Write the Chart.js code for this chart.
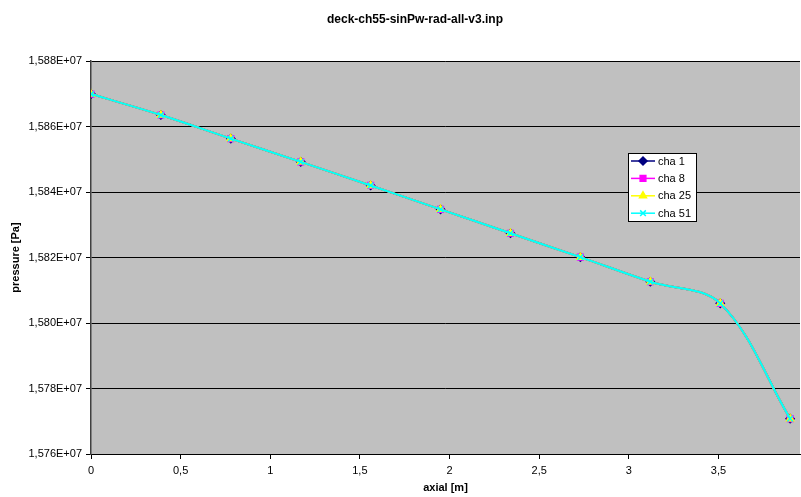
<!DOCTYPE html>
<html>
<head>
<meta charset="utf-8">
<script src="https://cdn.jsdelivr.net/npm/chart.js@4/dist/chart.umd.min.js"></script>
<style>
  html, body { margin: 0; padding: 0; background: #fff; }
  #wrap { width: 801px; height: 497px; }
</style>
</head>
<body>
<div id="wrap"><canvas id="pressureChart" width="801" height="497"></canvas></div>
<script>
// axial positions [m]
const axial = [0, 0.39, 0.78, 1.17, 1.56, 1.95, 2.34, 2.73, 3.12, 3.51, 3.9];

// pressure per channel [Pa]
const cha1  = [15869900, 15863500, 15856300, 15849200, 15842000, 15834700, 15827400, 15820100, 15812600, 15806000, 15770800];
const cha8  = [15869900, 15863500, 15856300, 15849200, 15842000, 15834700, 15827400, 15820100, 15812600, 15806000, 15770800];
const cha25 = [15869900, 15863500, 15856300, 15849200, 15842000, 15834700, 15827400, 15820100, 15812600, 15806000, 15770800];
const cha51 = [15869900, 15863500, 15856300, 15849200, 15842000, 15834700, 15827400, 15820100, 15812600, 15806000, 15770800];

const seriesNames = ['cha 1', 'cha 8', 'cha 25', 'cha 51'];
const seriesColors = ['#000080', '#ff00ff', '#ffff00', '#00ffff'];
const seriesMarkers = ['rectRot', 'rect', 'triangle', 'crossRot'];

const chartTitle = 'deck-ch55-sinPw-rad-all-v3.inp';
const yMin = 15760000, yMax = 15880000, yStep = 20000;

function toPoints(values) {
    return values.map((v, i) => ({ x: axial[i], y: v }));
}

// 1,588E+07 style labels
function sciLabel(v) {
    return (v / 1e7).toFixed(3).replace('.', ',') + 'E+07';
}

const plotBackground = {
    id: 'plotBackground',
    beforeDraw(chart) {
        const { ctx, chartArea: a } = chart;
        ctx.save();
        ctx.fillStyle = '#ffffff';
        ctx.fillRect(0, 0, chart.width, chart.height);
        ctx.fillStyle = '#c0c0c0';
        ctx.fillRect(a.left, a.top, a.right - a.left, a.bottom - a.top);
        ctx.restore();
    }
};

const titleAndLegend = {
    id: 'titleAndLegend',
    afterDraw(chart) {
        const ctx = chart.ctx;
        ctx.save();
        ctx.fillStyle = '#000';
        ctx.font = 'bold 12px "Liberation Sans", Arial, sans-serif';
        ctx.textAlign = 'center';
        ctx.textBaseline = 'middle';
        ctx.fillText(chartTitle, 415, 20);

        // legend box
        const bx = 628.5, by = 153.5, bw = 68, bh = 68;
        ctx.fillStyle = '#fff';
        ctx.fillRect(bx, by, bw, bh);
        ctx.strokeStyle = '#000';
        ctx.lineWidth = 1;
        ctx.strokeRect(bx, by, bw, bh);

        ctx.font = '11px "Liberation Sans", Arial, sans-serif';
        ctx.textAlign = 'left';
        chart.data.datasets.forEach((ds, i) => {
            const y = 161 + i * 17.4;
            ctx.strokeStyle = ds.borderColor;
            ctx.lineWidth = 1.5;
            ctx.beginPath();
            ctx.moveTo(631, y);
            ctx.lineTo(655, y);
            ctx.stroke();
            ctx.fillStyle = ds.pointBackgroundColor;
            ctx.strokeStyle = ds.pointBorderColor;
            ctx.lineWidth = 1.5;
            Chart.helpers.drawPoint(ctx, { pointStyle: ds.pointStyle, radius: 4, rotation: 0, borderWidth: 1.5 }, 643, y);
            ctx.fillStyle = '#000';
            ctx.fillText(ds.label, 658, y + 0.5);
        });
        ctx.restore();
    }
};

const seriesData = [cha1, cha8, cha25, cha51];

new Chart(document.getElementById('pressureChart').getContext('2d'), {
    type: 'line',
    data: {
        datasets: seriesData.map((vals, i) => ({
            label: seriesNames[i],
            data: toPoints(vals),
            borderColor: seriesColors[i],
            backgroundColor: seriesColors[i],
            pointBackgroundColor: seriesColors[i],
            pointBorderColor: seriesColors[i],
            pointStyle: seriesMarkers[i],
            pointRadius: 4,
            pointBorderWidth: 1.5,
            borderWidth: 2,
            tension: 0.35,
            fill: false,
            order: seriesData.length - i
        }))
    },
    options: {
        responsive: false,
        animation: false,
        devicePixelRatio: 1,
        layout: { autoPadding: false, padding: { top: 61, right: 1, left: 0, bottom: 0 } },
        plugins: {
            legend: { display: false },
            title: { display: false },
            tooltip: { enabled: false }
        },
        scales: {
            x: {
                type: 'linear',
                min: 0,
                max: 3.955,
                afterFit(scale) {
                    scale.height = 43;
                    scale.paddingLeft = 0;
                    scale.paddingRight = 0;
                },
                border: { color: '#000', width: 1 },
                grid: { drawOnChartArea: false, drawTicks: true, tickLength: 5, color: '#000' },
                ticks: {
                    stepSize: 0.5,
                    includeBounds: false,
                    autoSkip: false,
                    maxRotation: 0,
                    padding: 5,
                    color: '#000',
                    font: { family: '"Liberation Sans", Arial, sans-serif', size: 11 },
                    callback: v => String(v).replace('.', ',')
                },
                title: {
                    display: true,
                    text: 'axial [m]',
                    color: '#000',
                    padding: { top: 0, bottom: 2 },
                    font: { family: '"Liberation Sans", Arial, sans-serif', size: 11, weight: 'bold' }
                }
            },
            y: {
                min: yMin,
                max: yMax,
                afterFit(scale) { scale.width = 91; },
                border: { color: '#404040', width: 1.5 },
                grid: { color: '#000', lineWidth: 1, drawTicks: true, tickLength: 5 },
                ticks: {
                    stepSize: yStep,
                    padding: 4,
                    color: '#000',
                    font: { family: '"Liberation Sans", Arial, sans-serif', size: 11 },
                    callback: v => sciLabel(v)
                },
                title: {
                    display: true,
                    text: 'pressure [Pa]',
                    color: '#000',
                    padding: { top: 9, bottom: 0 },
                    font: { family: '"Liberation Sans", Arial, sans-serif', size: 11, weight: 'bold' }
                }
            }
        }
    },
    plugins: [plotBackground, titleAndLegend]
});
</script>
</body>
</html>
